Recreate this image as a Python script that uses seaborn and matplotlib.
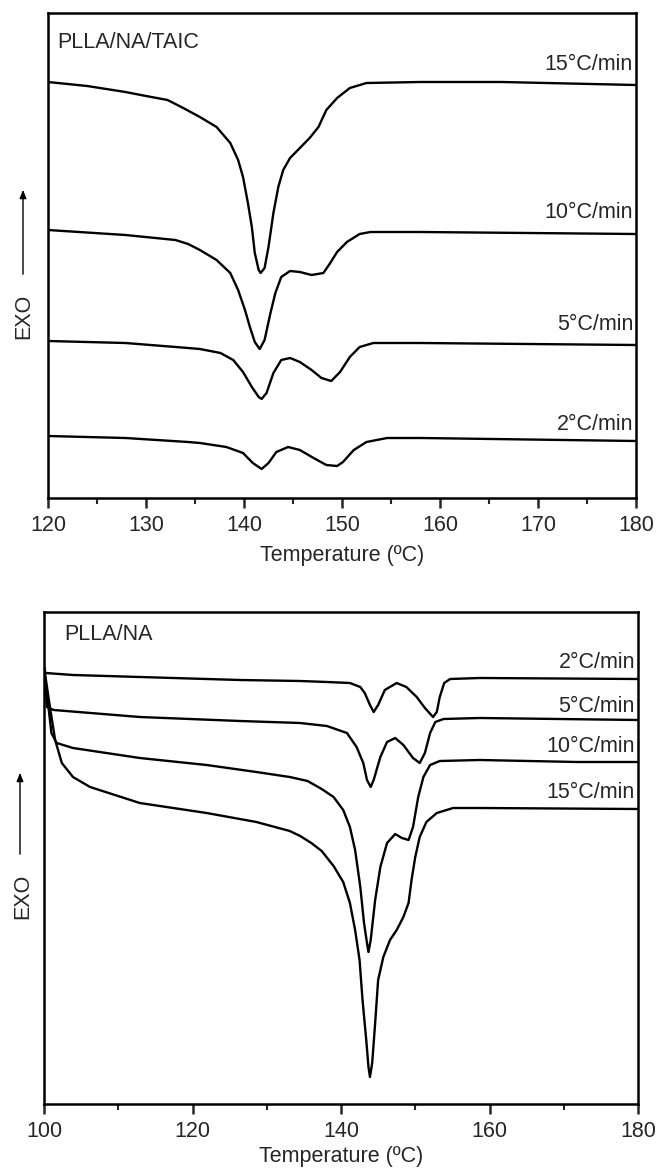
import numpy as np
import pandas as pd
import matplotlib
matplotlib.use("Agg")
import matplotlib.pyplot as plt
from matplotlib.ticker import MultipleLocator
import seaborn as sns

# ---------------- data: top panel (PLLA/NA/TAIC) ----------------
# heat-flow values (arbitrary units, larger = lower on the plot)
top_rates = ["15°C/min", "10°C/min", "5°C/min", "2°C/min"]
top_T_15 = [120, 124, 127.9, 130, 132.2, 133.8, 135.5, 137.2, 138.6, 139.4, 139.9, 140.4, 140.8,
            141.1, 141.5, 141.7, 142.1, 142.5, 143.0, 143.5, 144.0, 144.7, 145.7, 146.7, 147.6,
            148.4, 149.5, 150.8, 152.5, 158, 166.3, 180]
top_y_15 = [82, 86, 92, 96, 100, 108, 117, 127, 143, 160, 177, 203, 227,
            253, 270, 273, 268, 247, 213, 187, 170, 158, 148, 138, 127,
            110, 98, 88, 83, 82, 82, 85]
top_T_10 = [120, 127.9, 133, 134.3, 135.5, 137.2, 138.6, 139.4, 140.1, 140.6, 141.1, 141.6, 142.1,
            142.7, 143.2, 143.8, 144.7, 145.7, 146.9, 148.1, 148.8, 149.5, 150.5, 151.8, 152.9,
            158, 180]
top_y_10 = [230, 235, 240, 244, 250, 260, 273, 290, 310, 327, 342, 349, 340,
            313, 293, 277, 271, 272, 275, 273, 263, 252, 242, 234, 232,
            232, 234]
top_T_5 = [120, 127.9, 134.3, 135.5, 137.6, 138.9, 139.9, 140.8, 141.5, 141.8, 142.3, 143.0, 143.8,
           144.7, 145.7, 146.9, 147.9, 148.9, 149.8, 150.8, 151.8, 153.2, 158, 180]
top_y_5 = [341, 343, 348, 349, 353, 360, 372, 387, 397, 399, 393, 373, 360,
           358, 362, 370, 378, 381, 372, 357, 347, 343, 343, 345]
top_T_2 = [120, 127.9, 134.3, 135.5, 138.2, 139.9, 140.9, 141.8, 142.5, 143.3, 144.5, 145.7, 147.1,
           148.4, 149.5, 150.1, 151.2, 152.5, 154.6, 158, 180]
top_y_2 = [436, 438, 442, 443, 447, 453, 463, 469, 463, 452, 447, 450, 458,
           465, 466, 462, 450, 442, 438, 438, 441]
top_label_y = [65, 213, 325, 425]

# ---------------- data: bottom panel (PLLA/NA) ----------------
bot_rates = ["2°C/min", "5°C/min", "10°C/min", "15°C/min"]
bot_T_2 = [100, 100.2, 103.9, 112.9, 126.4, 134.5, 138.1, 141.2, 142.6, 143.2, 143.9, 144.4, 145.0,
           145.9, 147.5, 148.8, 150.2, 151.3, 152.4, 152.9, 153.3, 153.9, 154.7, 158.7, 180]
bot_y_2 = [667, 673, 675, 677, 680, 681, 682, 683, 687, 693, 705, 712, 705,
           690, 683, 687, 697, 708, 717, 712, 697, 683, 679, 678, 679]
bot_T_5 = [100, 100.4, 101.3, 112.9, 126.4, 134.5, 138.1, 140.8, 142.1, 143.0, 143.5, 144.0, 144.4,
           145.3, 146.2, 147.3, 148.4, 149.7, 150.6, 151.3, 152.0, 152.7, 153.8, 158.7, 180]
bot_y_5 = [667, 707, 710, 717, 721, 723, 726, 733, 747, 763, 780, 787, 780,
           757, 742, 738, 745, 758, 763, 753, 733, 722, 719, 718, 720]
bot_T_10 = [100, 100.6, 101.0, 101.7, 103.9, 112.9, 121.9, 128.6, 133.1, 135.5, 137.4, 139.0, 140.3,
            141.2, 141.9, 142.6, 143.1, 143.5, 143.7, 144.0, 144.6, 145.3, 146.2, 147.3, 148.2,
            149.1, 149.7, 150.4, 151.1, 152.0, 153.3, 158.7, 171.8, 180]
bot_y_10 = [667, 707, 733, 743, 748, 758, 765, 772, 777, 781, 789, 797, 810,
            827, 850, 887, 923, 943, 952, 940, 900, 867, 843, 834, 838,
            840, 827, 797, 777, 765, 761, 760, 762, 762]
bot_T_15 = [100, 100.8, 101.5, 102.4, 103.9, 106.2, 112.9, 121.9, 128.6, 133.1, 134.5, 136, 137.4,
            139.0, 140.3, 141.2, 141.9, 142.5, 142.9, 143.4, 143.7, 143.9, 144.2, 144.6, 145.0,
            145.7, 146.6, 147.5, 148.4, 149.1, 149.5, 150.0, 150.6, 151.5, 152.9, 155.1, 158.7, 180]
bot_y_15 = [667, 707, 740, 763, 777, 787, 803, 813, 822, 831, 836, 843, 851,
            866, 882, 903, 930, 960, 1000, 1040, 1067, 1077, 1063, 1023, 980,
            957, 940, 930, 917, 903, 880, 857, 837, 822, 813, 808, 808, 809]
bot_label_y = [663, 707, 747, 793]

# ---------------- build long-form tables (heat flow, exo up) ----------------
def frame(rates, Ts, ys, ref):
    rows = []
    for r, T, y in zip(rates, Ts, ys):
        for t, v in zip(T, y):
            rows.append({"T": t, "hf": ref - v, "rate": r})
    return pd.DataFrame(rows)

TOP_REF, BOT_REF = 498, 1104
df_top = frame(top_rates, [top_T_15, top_T_10, top_T_5, top_T_2],
               [top_y_15, top_y_10, top_y_5, top_y_2], TOP_REF)
df_bot = frame(bot_rates, [bot_T_2, bot_T_5, bot_T_10, bot_T_15],
               [bot_y_2, bot_y_5, bot_y_10, bot_y_15], BOT_REF)

sns.set_theme(style="ticks")
plt.rcParams['font.family'] = ['Liberation Sans', 'DejaVu Sans']
plt.rcParams['axes.linewidth'] = 1.8
FS = 15.5

W, H = 657, 1168
fig = plt.figure(figsize=(W / 100, H / 100), dpi=100)

def px_axes(l, r, t, b):
    return fig.add_axes([l / W, 1 - b / H, (r - l) / W, (b - t) / H])

ax1 = px_axes(48, 636, 13, 498)
ax2 = px_axes(44, 638, 612, 1104)

black = {r: "black" for r in top_rates}
for ax, df, xlim, ref, top_px, major, minor, lpad in [
        (ax1, df_top, (120, 180), TOP_REF, 13, 10, 5, 7),
        (ax2, df_bot, (100, 180), BOT_REF, 612, 20, 10, 3)]:
    sns.lineplot(data=df, x="T", y="hf", hue="rate", palette=black, sort=False,
                 estimator=None, legend=False, linewidth=1.7, ax=ax)
    for ln in ax.lines:
        ln.set_solid_joinstyle("round")
    ax.set_xlim(*xlim)
    ax.set_ylim(0, ref - top_px)
    ax.set_yticks([])
    ax.set_ylabel("")
    ax.set_xlabel("Temperature (ºC)", fontsize=FS, labelpad=lpad)
    ax.xaxis.set_major_locator(MultipleLocator(major))
    ax.xaxis.set_minor_locator(MultipleLocator(minor))
    ax.tick_params(axis="x", which="major", length=7, width=1.8, labelsize=FS, pad=5, direction="out")
    ax.tick_params(axis="x", which="minor", length=4, width=1.5, direction="out")
    for s in ax.spines.values():
        s.set_visible(True)
        s.set_color("black")

for r, ly in zip(top_rates, top_label_y):
    ax1.text(0.995, TOP_REF - ly, r, transform=ax1.get_yaxis_transform(),
             ha="right", va="center", fontsize=FS)
for r, ly in zip(bot_rates, bot_label_y):
    ax2.text(0.995, BOT_REF - ly, r, transform=ax2.get_yaxis_transform(),
             ha="right", va="center", fontsize=FS)

fig.text(57 / W, 1 - 43 / H, "PLLA/NA/TAIC", ha="left", va="center", fontsize=FS)
fig.text(64 / W, 1 - 635 / H, "PLLA/NA", ha="left", va="center", fontsize=FS)

# EXO labels with arrows
for x_txt, y_txt, x_arr, y0, y1 in [(24, 316, 23, 277, 187), (23, 896, 20, 857, 770)]:
    fig.text(x_txt / W, 1 - y_txt / H, "EXO", rotation=90, ha="center", va="center", fontsize=FS)
    fig.add_artist(matplotlib.patches.FancyArrowPatch(
        (x_arr / W, 1 - y0 / H), (x_arr / W, 1 - y1 / H), transform=fig.transFigure,
        arrowstyle="-|>,head_length=5,head_width=2", mutation_scale=1, lw=1.0, color="black"))

fig.savefig("out.png", dpi=100)
